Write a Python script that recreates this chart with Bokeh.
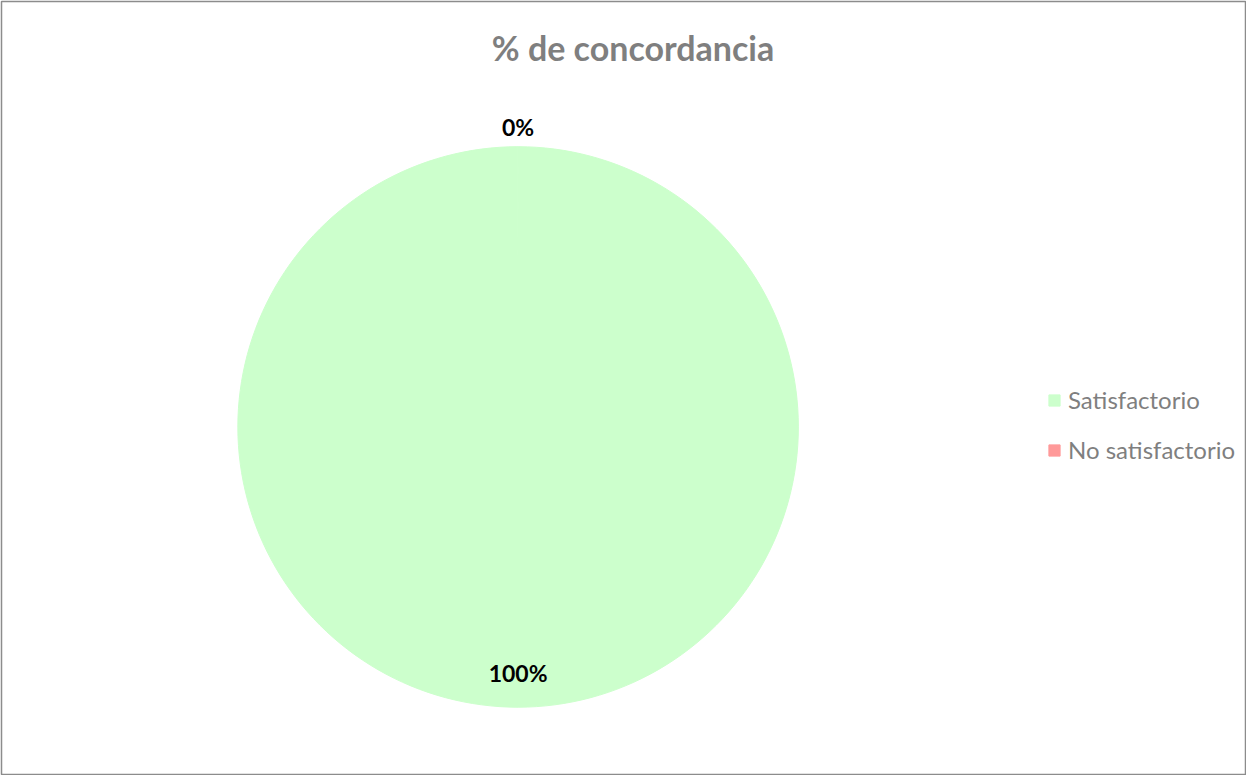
import numpy as np
from bokeh.plotting import figure
from bokeh.models import ColumnDataSource, Range1d, Legend, LegendItem, Label
from bokeh.core.properties import value
from bokeh.embed import file_html
from bokeh.resources import INLINE

# ---- data ----
title_text = "% de concordancia"
categories = ["Satisfactorio", "No satisfactorio"]
percentages = [100, 0]
colors = ["#CCFFCC", "#FF9999"]

# ---- layout (pixel-like data space) ----
W, H = 1246, 775
CX, CY, R = 517, 349, 280.5

frac = np.array(percentages, dtype=float) / float(sum(percentages))
cum = np.cumsum(frac)
start = np.pi / 2 - 2 * np.pi * (cum - frac)
# tiny render-only shortening so a 100 % slice is still drawn as a closed disc in SVG
end = start - 2 * np.pi * frac * (1 - 1e-4)
mid = np.pi / 2 - 2 * np.pi * (cum - frac / 2)
radius = np.where(frac > 0, R, 0.0)  # empty slices draw nothing
lab_r = np.where(frac > 0.05, 0.88 * R, 1.07 * R)
lab_x = CX + lab_r * np.cos(mid)
lab_y = CY + lab_r * np.sin(mid)
lab_txt = [f"{p:.0f}%" for p in percentages]

src = ColumnDataSource(dict(cat=categories, val=percentages, color=colors, r=radius,
                            start=start, end=end, lx=lab_x, ly=lab_y, txt=lab_txt))

p = figure(width=W, height=H, output_backend="svg", toolbar_location=None,
           x_range=Range1d(0, W), y_range=Range1d(0, H),
           min_border=0, min_border_left=1, min_border_top=1)
p.axis.visible = False
p.grid.visible = False
p.outline_line_color = "#8c8c8c"
p.outline_line_width = 1.5
p.background_fill_color = "white"
p.border_fill_color = "white"

w = p.wedge(x=CX, y=CY, radius="r", start_angle="start", end_angle="end",
            direction="clock", fill_color="color", line_color="color",
            line_width=1, source=src)

p.text(x="lx", y="ly", text="txt", source=src, text_align="center",
       text_baseline="middle", text_font=value("Lato"), text_font_style="bold",
       text_font_size="23px", text_color="#000000")

p.add_layout(Label(x=W / 2 + 9, y=729, text=title_text, text_align="center",
                   text_baseline="middle", text_font="Lato", text_font_style="bold",
                   text_font_size="34px", text_color="#7f7f7f"))

items = [LegendItem(label=c, renderers=[w], index=i) for i, c in enumerate(categories)]
legend = Legend(items=items, location=(1046, 311), orientation="vertical",
                glyph_width=14, glyph_height=14, label_height=28, spacing=21,
                label_standoff=7, padding=0, margin=0,
                border_line_color=None, background_fill_alpha=0,
                label_text_font="Lato", label_text_font_size="24px",
                label_text_color="#7f7f7f")
p.add_layout(legend)

open("out.html", "w").write(file_html(p, INLINE))
